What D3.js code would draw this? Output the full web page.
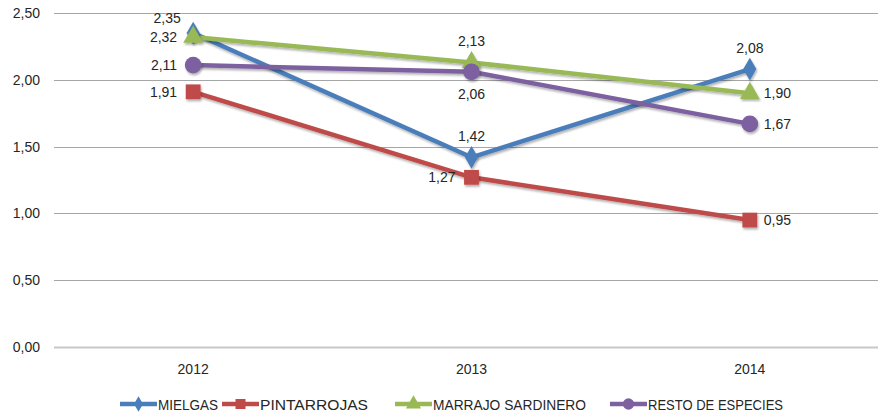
<!DOCTYPE html>
<html>
<head>
<meta charset="utf-8">
<script src="https://cdn.jsdelivr.net/npm/d3@7"></script>
<style>
  body { margin: 0; background: #fff; }
  text { font-family: "Liberation Sans", Arial, sans-serif; fill: #262626; }
</style>
</head>
<body>
<div id="chart"></div>
<script>
// Data
const years = ["2012", "2013", "2014"];
const mielgas = [2.35, 1.42, 2.08];
const pintarrojas = [1.91, 1.27, 0.95];
const marrajo = [2.32, 2.13, 1.90];
const resto = [2.11, 2.06, 1.67];
const yTicks = [0, 0.5, 1, 1.5, 2, 2.5];

const series = [
    { name: "MIELGAS", values: mielgas, color: "#4a7ebb", symbol: d3.symbolDiamond, labels: ["tl", "t", "t"] },
    { name: "PINTARROJAS", values: pintarrojas, color: "#be4b48", symbol: d3.symbolSquare, labels: ["l", "l", "r"] },
    { name: "MARRAJO SARDINERO", values: marrajo, color: "#98b954", symbol: d3.symbolTriangle, labels: ["l", "t", "r"] },
    { name: "RESTO DE ESPECIES", values: resto, color: "#7d60a0", symbol: d3.symbolCircle, labels: ["l", "b", "r"] }
];
const legendW = [60, 108, 153, 135];

const fmt = v => d3.format(".2f")(v).replace(".", ",");

const W = 878, H = 416;
const margin = { top: 13, left: 54, bottom: 69 };
const plotRight = 889;

const svg = d3.select("#chart")
    .append("svg")
    .attr("width", W)
    .attr("height", H);

// Drop shadow like the Excel default
const defs = svg.append("defs");
const f = defs.append("filter").attr("id", "shadow")
    .attr("x", "-30%").attr("y", "-30%").attr("width", "160%").attr("height", "160%");
f.append("feDropShadow")
    .attr("dx", 1).attr("dy", 2).attr("stdDeviation", 1.2)
    .attr("flood-color", "#000").attr("flood-opacity", 0.3);

const x = d3.scalePoint()
    .domain(years)
    .range([margin.left, plotRight])
    .padding(0.5);

const y = d3.scaleLinear()
    .domain([0, 2.5])
    .range([H - margin.bottom, margin.top]);

// Gridlines
svg.append("g")
    .selectAll("line")
    .data(yTicks)
    .enter()
    .append("line")
    .attr("x1", margin.left)
    .attr("x2", plotRight)
    .attr("y1", d => Math.round(y(d)) + 0.5)
    .attr("y2", d => Math.round(y(d)) + 0.5)
    .style("stroke", d => d === 0 ? "#c8c8c8" : "#a6a6a6")
    .style("stroke-width", d => d === 0 ? 2 : 1);

// Y axis labels
svg.append("g")
    .selectAll("text")
    .data(yTicks)
    .enter()
    .append("text")
    .attr("x", 40)
    .attr("y", d => y(d) + 5)
    .style("text-anchor", "end")
    .style("font-size", "14px")
    .text(d => fmt(d));

// X axis labels
svg.append("g")
    .selectAll("text")
    .data(years)
    .enter()
    .append("text")
    .attr("x", d => x(d))
    .attr("y", 374)
    .style("text-anchor", "middle")
    .style("font-size", "14px")
    .text(d => d);

const line = d3.line()
    .x((d, i) => x(years[i]))
    .y(d => y(d));

// Lines
svg.append("g")
    .selectAll("path")
    .data(series)
    .enter()
    .append("path")
    .attr("d", d => line(d.values))
    .style("fill", "none")
    .style("stroke", d => d.color)
    .style("stroke-width", 4.5)
    .style("stroke-linejoin", "round")
    .attr("filter", "url(#shadow)");

// Markers
series.forEach(s => {
    svg.append("g")
        .selectAll("path")
        .data(s.values)
        .enter()
        .append("path")
        .attr("transform", (d, i) => `translate(${x(years[i])},${y(d)})`)
        .attr("d", d3.symbol().type(s.symbol).size(s.symbol === d3.symbolDiamond ? 150 : s.symbol === d3.symbolTriangle ? 170 : 220))
        .style("fill", s.color)
        .attr("filter", "url(#shadow)");
});

// Data labels
const offsets = {
    tl: [-26, -10, "middle"],
    t: [0, -16, "middle"],
    b: [0, 27, "middle"],
    l: [-16, 5, "end"],
    r: [14, 5, "start"]
};
series.forEach(s => {
    svg.append("g")
        .selectAll("text")
        .data(s.values)
        .enter()
        .append("text")
        .attr("x", (d, i) => x(years[i]) + offsets[s.labels[i]][0])
        .attr("y", (d, i) => y(d) + offsets[s.labels[i]][1])
        .style("text-anchor", (d, i) => offsets[s.labels[i]][2])
        .style("font-size", "14px")
        .text(d => fmt(d));
});

// Legend
const legendX = [120, 222, 395, 610];
const legend = svg.append("g")
    .selectAll("g")
    .data(series)
    .enter()
    .append("g")
    .attr("transform", (d, i) => `translate(${legendX[i]},404)`);

legend.append("line")
    .attr("x1", 0).attr("x2", 37)
    .style("stroke", d => d.color)
    .style("stroke-width", 4.5);

legend.append("path")
    .attr("transform", "translate(18.5,0)")
    .attr("d", d => d3.symbol().type(d.symbol).size(d.symbol === d3.symbolDiamond ? 70 : 100)())
    .style("fill", d => d.color);

legend.append("text")
    .attr("x", 38)
    .attr("y", 5.5)
    .style("font-size", "14px")
    .attr("textLength", (d, i) => legendW[i])
    .attr("lengthAdjust", "spacingAndGlyphs")
    .text(d => d.name);
</script>
</body>
</html>
